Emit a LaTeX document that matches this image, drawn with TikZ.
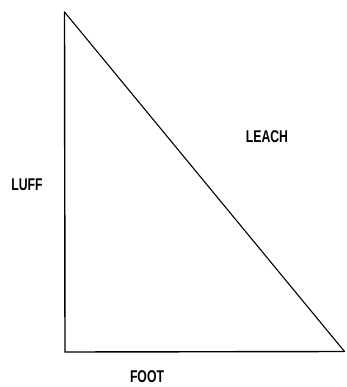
\documentclass[tikz,border=0pt]{standalone}
\usepackage{fontspec}
\setmainfont{Liberation Sans}[FakeStretch=0.72]
\begin{document}
\begin{tikzpicture}[x=1pt,y=-1pt,
  edge/.style={draw=black,line width=1.4pt,line cap=round,line join=miter},
  lbl/.style={font=\fontsize{17}{17}\selectfont\bfseries,inner sep=0pt,anchor=center}]
\useasboundingbox (0,0) rectangle (346,387);
\coordinate (top) at (64.5,12);
\coordinate (bl) at (65,352);
\coordinate (br) at (344.5,351.5);
\draw[edge] (top) -- (bl) -- (br);
\draw[draw=black,line width=1.1pt] (top) -- (br);
\node[lbl] (leach) at (267,137) {LEACH};
\node[lbl] (luff) at (27,185) {LUFF};
\node[lbl] (foot) at (147,377) {FOOT};
\end{tikzpicture}
\end{document}
